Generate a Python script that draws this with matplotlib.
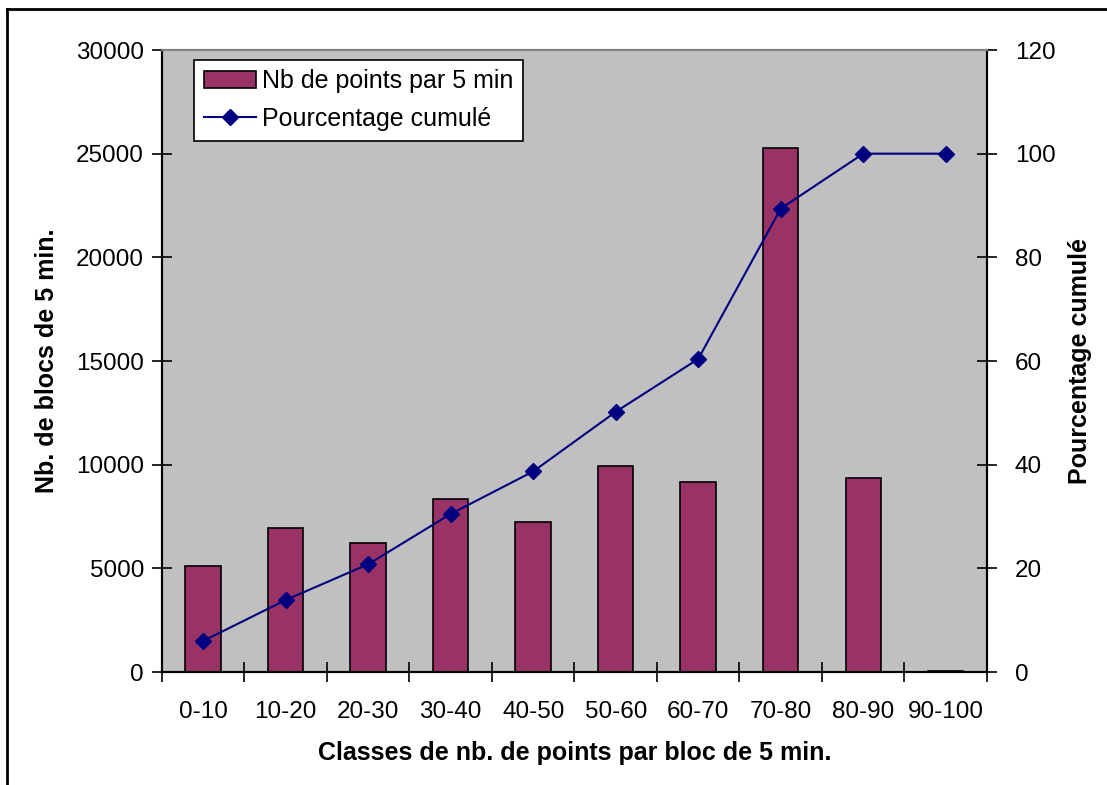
import matplotlib
matplotlib.use("Agg")
import matplotlib.pyplot as plt
import numpy as np
from matplotlib.lines import Line2D

plt.rcParams['font.family'] = ['Liberation Sans', 'DejaVu Sans']

classes = ["0-10", "10-20", "20-30", "30-40", "40-50", "50-60",
           "60-70", "70-80", "80-90", "90-100"]
nb_blocs = [5110, 6950, 6220, 8340, 7230, 9930, 9160, 25270, 9360, 60]
pct_cumule = [6.0, 13.9, 20.8, 30.5, 38.7, 50.2, 60.4, 89.4, 100, 100]

fig = plt.figure(figsize=(11.07, 7.85), dpi=100)
ax = fig.add_axes([0.1463, 0.1439, 0.7453, 0.7924])
ax.set_facecolor("#C0C0C0")

x = np.arange(len(classes))
bars = ax.bar(x, nb_blocs, width=0.43, color="#993366", edgecolor="black",
              linewidth=1.2, zorder=2, label="Nb de points par 5 min")
ax.set_xlim(-0.5, len(classes) - 0.5)
ax.set_ylim(0, 30000)
ax.set_yticks(np.arange(0, 30001, 5000))

# category ticks on the boundaries, labels at centres
ax.set_xticks(np.arange(-0.5, len(classes)), labels=[""] * (len(classes) + 1))
ax.set_xticks(x, labels=classes, minor=True)
ax.tick_params(axis="x", which="minor", length=0, pad=21, labelsize=17.5)
ax.tick_params(axis="x", which="major", direction="inout", length=14, width=1.2)
ax.tick_params(axis="y", direction="inout", length=14, width=1.2, labelsize=17.5, pad=6)

ax2 = ax.twinx()
ax2.plot(x, pct_cumule, color="#000080", marker="D", markersize=8,
         linewidth=1.5, zorder=3)
ax2.set_ylim(0, 120)
ax2.set_yticks(np.arange(0, 121, 20))
ax2.tick_params(axis="y", direction="inout", length=14, width=1.2, labelsize=17.5, pad=13)

for a in (ax, ax2):
    a.spines["left"].set_linewidth(1.5)
    a.spines["right"].set_linewidth(1.5)
    a.spines["bottom"].set_linewidth(1.5)
    a.spines["top"].set_color("#808080")
    a.spines["top"].set_linewidth(1.5)

ax.set_ylabel("Nb. de blocs de 5 min.", fontsize=18, fontweight="bold", labelpad=12)
ax2.set_ylabel("Pourcentage cumulé", fontsize=18, fontweight="bold", labelpad=9)
ax.set_xlabel("Classes de nb. de points par bloc de 5 min.", fontsize=18,
              fontweight="bold", labelpad=13)

handles = [bars.patches[0],
           Line2D([], [], color="#000080", marker="D", markersize=8, linewidth=1.5)]
leg = ax.legend(handles, ["Nb de points par 5 min", "Pourcentage cumulé"],
                loc="upper left", bbox_to_anchor=(0.039, 0.984), borderaxespad=0,
                fancybox=False, framealpha=1, edgecolor="black", fontsize=18,
                handlelength=2.1, handletextpad=0.25, labelspacing=0.55,
                borderpad=0.38)
leg.get_frame().set_linewidth(1.2)
leg.set_zorder(5)

# outer chart border (left and top)
fig.add_artist(Line2D([0.0065, 0.0065], [0, 0.9885], transform=fig.transFigure,
                      color="black", linewidth=2))
fig.add_artist(Line2D([0.0065, 1], [0.9885, 0.9885], transform=fig.transFigure,
                      color="black", linewidth=2))

fig.savefig("out.png", dpi=100)
